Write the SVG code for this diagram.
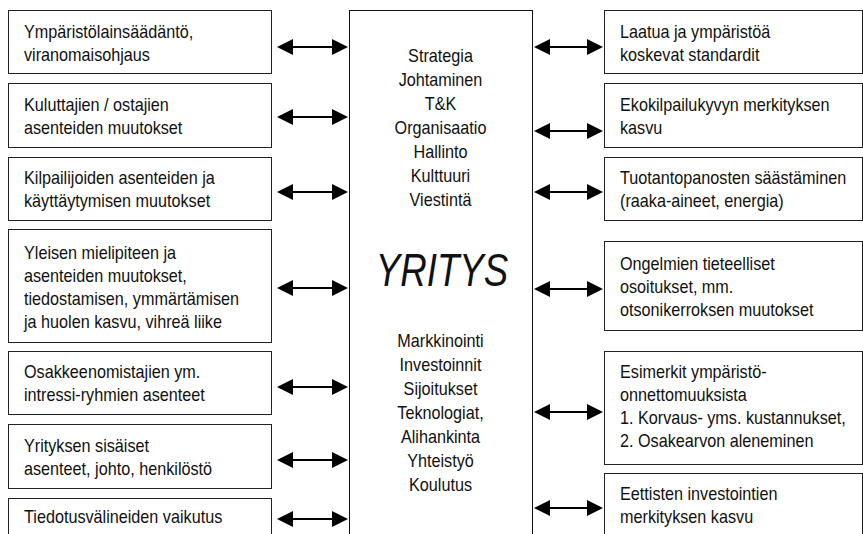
<svg xmlns="http://www.w3.org/2000/svg" width="863" height="534" viewBox="0 0 863 534">
  <defs>
    <marker id="head" viewBox="0 0 16 16" markerUnits="userSpaceOnUse" markerWidth="16" markerHeight="16" refX="8" refY="8" orient="auto-start-reverse">
      <path d="M0,0 L16,8 L0,16 z" fill="#000"/>
    </marker>
    <style>
      .box { fill: #fff; stroke: #222; stroke-width: 1; }
      .core { fill: #fff; stroke: #111; stroke-width: 1; }
      .t { font-family: "Liberation Sans", Arial, sans-serif; font-size: 18px; fill: #111; }
      .c { text-anchor: middle; }
      .big { font-family: "Liberation Sans", Arial, sans-serif; font-size: 47px; font-style: italic; fill: #111; text-anchor: middle; }
      .arrow { stroke: #000; stroke-width: 2; fill: none; marker-start: url(#head); marker-end: url(#head); }
    </style>
  </defs>

  <rect width="863" height="534" fill="#fff"/>

  <!-- central company block; lettering is condensed horizontally -->
  <g id="yritys">
    <rect class="core" x="349.5" y="10.5" width="183" height="540"/>
    <g transform="translate(440.5 0) scale(0.9 1)">
      <text class="t c" x="0" y="62">Strategia</text>
      <text class="t c" x="0" y="86">Johtaminen</text>
      <text class="t c" x="0" y="110">T&amp;K</text>
      <text class="t c" x="0" y="134">Organisaatio</text>
      <text class="t c" x="0" y="158">Hallinto</text>
      <text class="t c" x="0" y="182">Kulttuuri</text>
      <text class="t c" x="0" y="206">Viestintä</text>
      <text class="t c" x="0" y="347">Markkinointi</text>
      <text class="t c" x="0" y="371">Investoinnit</text>
      <text class="t c" x="0" y="395">Sijoitukset</text>
      <text class="t c" x="0" y="419">Teknologiat,</text>
      <text class="t c" x="0" y="443">Alihankinta</text>
      <text class="t c" x="0" y="467">Yhteistyö</text>
      <text class="t c" x="0" y="491">Koulutus</text>
    </g>
    <g transform="translate(442 0) scale(0.78 1)">
      <text class="big" x="0" y="286">YRITYS</text>
    </g>
  </g>

  <!-- left-hand factors -->
  <g id="l1">
    <rect class="box" x="8.5" y="10.5" width="263" height="63"/>
    <g transform="translate(24 0) scale(0.9 1)">
      <text class="t" x="0" y="38">Ympäristölainsäädäntö,</text>
      <text class="t" x="0" y="61">viranomaisohjaus</text>
    </g>
  </g>
  <g id="l2">
    <rect class="box" x="8.5" y="83.5" width="263" height="64"/>
    <g transform="translate(24 0) scale(0.9 1)">
      <text class="t" x="0" y="111">Kuluttajien / ostajien</text>
      <text class="t" x="0" y="134">asenteiden muutokset</text>
    </g>
  </g>
  <g id="l3">
    <rect class="box" x="8.5" y="157.5" width="263" height="63"/>
    <g transform="translate(24 0) scale(0.9 1)">
      <text class="t" x="0" y="184">Kilpailijoiden asenteiden ja</text>
      <text class="t" x="0" y="207">käyttäytymisen muutokset</text>
    </g>
  </g>
  <g id="l4">
    <rect class="box" x="8.5" y="229.5" width="263" height="113"/>
    <g transform="translate(24 0) scale(0.9 1)">
      <text class="t" x="0" y="259">Yleisen mielipiteen ja</text>
      <text class="t" x="0" y="282">asenteiden muutokset,</text>
      <text class="t" x="0" y="305">tiedostamisen, ymmärtämisen</text>
      <text class="t" x="0" y="328">ja huolen kasvu, vihreä liike</text>
    </g>
  </g>
  <g id="l5">
    <rect class="box" x="8.5" y="351.5" width="263" height="63"/>
    <g transform="translate(24 0) scale(0.9 1)">
      <text class="t" x="0" y="378">Osakkeenomistajien ym.</text>
      <text class="t" x="0" y="401">intressi-ryhmien asenteet</text>
    </g>
  </g>
  <g id="l6">
    <rect class="box" x="8.5" y="424.5" width="263" height="64"/>
    <g transform="translate(24 0) scale(0.9 1)">
      <text class="t" x="0" y="452">Yrityksen sisäiset</text>
      <text class="t" x="0" y="475">asenteet, johto, henkilöstö</text>
    </g>
  </g>
  <g id="l7">
    <rect class="box" x="8.5" y="498.5" width="263" height="60"/>
    <g transform="translate(24 0) scale(0.9 1)">
      <text class="t" x="0" y="523">Tiedotusvälineiden vaikutus</text>
    </g>
  </g>

  <!-- right-hand factors -->
  <g id="r1">
    <rect class="box" x="604.5" y="10.5" width="258" height="63"/>
    <g transform="translate(620 0) scale(0.9 1)">
      <text class="t" x="0" y="38">Laatua ja ympäristöä</text>
      <text class="t" x="0" y="61">koskevat standardit</text>
    </g>
  </g>
  <g id="r2">
    <rect class="box" x="604.5" y="83.5" width="258" height="64"/>
    <g transform="translate(620 0) scale(0.9 1)">
      <text class="t" x="0" y="111">Ekokilpailukyvyn merkityksen</text>
      <text class="t" x="0" y="134">kasvu</text>
    </g>
  </g>
  <g id="r3">
    <rect class="box" x="604.5" y="157.5" width="258" height="63"/>
    <g transform="translate(620 0) scale(0.9 1)">
      <text class="t" x="0" y="184">Tuotantopanosten säästäminen</text>
      <text class="t" x="0" y="207">(raaka-aineet, energia)</text>
    </g>
  </g>
  <g id="r4">
    <rect class="box" x="604.5" y="241.5" width="258" height="89"/>
    <g transform="translate(620 0) scale(0.9 1)">
      <text class="t" x="0" y="270">Ongelmien tieteelliset</text>
      <text class="t" x="0" y="293">osoitukset, mm.</text>
      <text class="t" x="0" y="316">otsonikerroksen muutokset</text>
    </g>
  </g>
  <g id="r5">
    <rect class="box" x="604.5" y="351.5" width="258" height="113"/>
    <g transform="translate(620 0) scale(0.9 1)">
      <text class="t" x="0" y="378">Esimerkit ympäristö-</text>
      <text class="t" x="0" y="401">onnettomuuksista</text>
      <text class="t" x="0" y="424">1. Korvaus- yms. kustannukset,</text>
      <text class="t" x="0" y="447">2. Osakearvon aleneminen</text>
    </g>
  </g>
  <g id="r6">
    <rect class="box" x="604.5" y="473.5" width="258" height="80"/>
    <g transform="translate(620 0) scale(0.9 1)">
      <text class="t" x="0" y="500">Eettisten investointien</text>
      <text class="t" x="0" y="523">merkityksen kasvu</text>
    </g>
  </g>

  <!-- two-way links between the company and each factor -->
  <g id="connectors">
    <line class="arrow" x1="285" y1="47" x2="340" y2="47"/>
    <line class="arrow" x1="285" y1="117" x2="340" y2="117"/>
    <line class="arrow" x1="285" y1="192" x2="340" y2="192"/>
    <line class="arrow" x1="285" y1="288" x2="340" y2="288"/>
    <line class="arrow" x1="285" y1="387" x2="340" y2="387"/>
    <line class="arrow" x1="285" y1="460" x2="340" y2="460"/>
    <line class="arrow" x1="285" y1="519" x2="340" y2="519"/>

    <line class="arrow" x1="542" y1="47" x2="595" y2="47"/>
    <line class="arrow" x1="542" y1="131" x2="595" y2="131"/>
    <line class="arrow" x1="542" y1="192" x2="595" y2="192"/>
    <line class="arrow" x1="542" y1="289" x2="595" y2="289"/>
    <line class="arrow" x1="542" y1="412" x2="595" y2="412"/>
    <line class="arrow" x1="542" y1="508" x2="595" y2="508"/>
  </g>
</svg>
